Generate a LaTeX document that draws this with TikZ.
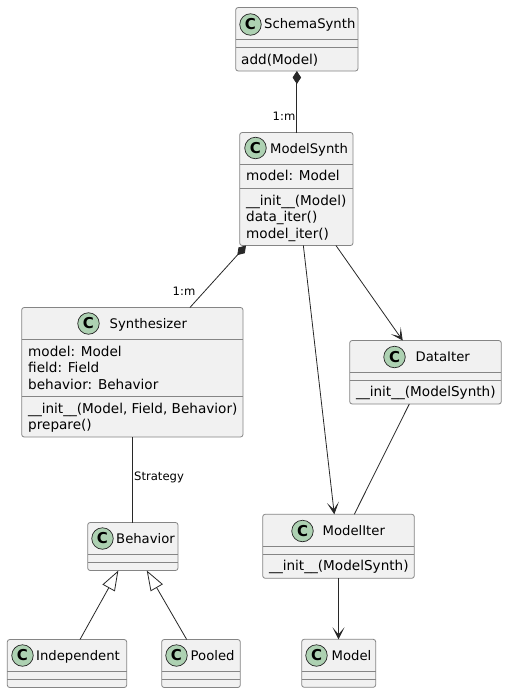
\documentclass[tikz,border=0pt]{standalone}
\usepackage{fontspec}
\setmainfont{DejaVu Sans}
\usetikzlibrary{arrows.meta}
\definecolor{boxfill}{HTML}{F1F1F1}
\definecolor{boxline}{HTML}{858585}
\definecolor{edgeline}{HTML}{282828}
\definecolor{spotfill}{HTML}{ADD1B2}
\tikzset{
  classbox/.style={draw=boxline,fill=boxfill,line width=0.8pt,rounded corners=2.5pt,
    inner sep=0pt,outer sep=0pt,anchor=north west},
  spot/.style={circle,draw=edgeline,fill=spotfill,line width=0.7pt,minimum size=21.5pt,inner sep=0pt,
    font=\fontsize{15}{15}\selectfont\bfseries},
  title/.style={inner sep=0pt,anchor=base west,font=\fontsize{13.2}{16.7}\selectfont},
  members/.style={inner sep=0pt,anchor=north west,align=left,font=\fontsize{13.6}{16.7}\selectfont},
  divider/.style={boxline,line width=0.8pt},
  edge/.style={edgeline,line width=0.8pt},
  tag/.style={inner sep=0pt,font=\fontsize{11.6}{13}\selectfont},
  comp/.style={edge,{Diamond[length=13pt,width=8.5pt]}-},
  nav/.style={edge,-{Stealth[length=12pt,width=12pt,inset=7pt]}},
  ext/.style={edge,-{Triangle[open,fill=white,length=20pt,width=14pt]}}
}
\begin{document}
\begin{tikzpicture}[x=1pt,y=-1pt]
\useasboundingbox[fill=white] (0,0) rectangle (507,693);
% classes, top to bottom
\node[classbox,minimum width=122.3pt,minimum height=63.5pt] (schemasynth) at (235.7,7.5) {};
\draw[divider] ([yshift=-32pt]schemasynth.north west) -- ([yshift=-32pt]schemasynth.north east);
\draw[divider] ([yshift=-40pt]schemasynth.north west) -- ([yshift=-40pt]schemasynth.north east);
\node[spot] (schemaspot) at (250.5,24.5) {C};
\node[title] (schemaname) at (264,28.5) {SchemaSynth};
\node[members] (schemaops) at (241,53.5) {add(Model)};

\node[classbox,minimum width=113.3pt,minimum height=113pt] (modelsynth) at (239.7,132.5) {};
\draw[divider] ([yshift=-32pt]modelsynth.north west) -- ([yshift=-32pt]modelsynth.north east);
\draw[divider] ([yshift=-56pt]modelsynth.north west) -- ([yshift=-56pt]modelsynth.north east);
\node[spot] (modelsynthspot) at (255.5,148) {C};
\node[title] (modelsynthname) at (270,153) {ModelSynth};
\node[members] (modelsynthattrs) at (246,170) {model: Model};
\node[members] (modelsynthops) at (246,194.5) {\_\_init\_\_(Model)\\data\_iter()\\model\_iter()};

\node[classbox,minimum width=221.3pt,minimum height=129.5pt] (synthesizer) at (21.7,307.5) {};
\draw[divider] ([yshift=-32pt]synthesizer.north west) -- ([yshift=-32pt]synthesizer.north east);
\draw[divider] ([yshift=-88.5pt]synthesizer.north west) -- ([yshift=-88.5pt]synthesizer.north east);
\node[spot] (synthesizerspot) at (88.5,323.5) {C};
\node[title] (synthesizername) at (109.5,328.5) {Synthesizer};
\node[members] (synthesizerattrs) at (28,345.5) {model: Model\\field: Field\\behavior: Behavior};
\node[members] (synthesizerops) at (28,402.5) {\_\_init\_\_(Model, Field, Behavior)\\prepare()};

\node[classbox,minimum width=151.6pt,minimum height=63.5pt] (dataiter) at (349.7,340.5) {};
\draw[divider] ([yshift=-32pt]dataiter.north west) -- ([yshift=-32pt]dataiter.north east);
\draw[divider] ([yshift=-40pt]dataiter.north west) -- ([yshift=-40pt]dataiter.north east);
\node[spot] (dataiterspot) at (394.5,357) {C};
\node[title] (dataitername) at (415.5,361.5) {DataIter};
\node[members] (dataiterops) at (356,386) {\_\_init\_\_(ModelSynth)};

\node[classbox,minimum width=151.6pt,minimum height=64pt] (modeliter) at (262.7,514.3) {};
\draw[divider] ([yshift=-32pt]modeliter.north west) -- ([yshift=-32pt]modeliter.north east);
\draw[divider] ([yshift=-40pt]modeliter.north west) -- ([yshift=-40pt]modeliter.north east);
\node[spot] (modeliterspot) at (302.5,531) {C};
\node[title] (modelitername) at (322.5,535.5) {ModelIter};
\node[members] (modeliterops) at (269,560) {\_\_init\_\_(ModelSynth)};

\node[classbox,minimum width=90.3pt,minimum height=48pt] (behavior) at (87.7,522.5) {};
\draw[divider] ([yshift=-32pt]behavior.north west) -- ([yshift=-32pt]behavior.north east);
\draw[divider] ([yshift=-40pt]behavior.north west) -- ([yshift=-40pt]behavior.north east);
\node[spot] (behaviorspot) at (102.5,538.5) {C};
\node[title] (behaviorname) at (116,543.5) {Behavior};

\node[classbox,minimum width=119.4pt,minimum height=48pt] (independent) at (7.3,639.5) {};
\draw[divider] ([yshift=-32pt]independent.north west) -- ([yshift=-32pt]independent.north east);
\draw[divider] ([yshift=-40pt]independent.north west) -- ([yshift=-40pt]independent.north east);
\node[spot] (independentspot) at (22.5,655.5) {C};
\node[title] (independentname) at (36,660.5) {Independent};

\node[classbox,minimum width=78.6pt,minimum height=48pt] (pooled) at (161.7,639.5) {};
\draw[divider] ([yshift=-32pt]pooled.north west) -- ([yshift=-32pt]pooled.north east);
\draw[divider] ([yshift=-40pt]pooled.north west) -- ([yshift=-40pt]pooled.north east);
\node[spot] (pooledspot) at (176.5,655.5) {C};
\node[title] (pooledname) at (190.5,660.5) {Pooled};

\node[classbox,minimum width=74pt,minimum height=48pt] (model) at (301.7,639.3) {};
\draw[divider] ([yshift=-32pt]model.north west) -- ([yshift=-32pt]model.north east);
\draw[divider] ([yshift=-40pt]model.north west) -- ([yshift=-40pt]model.north east);
\node[spot] (modelspot) at (316.5,655.5) {C};
\node[title] (modelname) at (331.5,660.5) {Model};

% relations
\draw[comp] (schemasynth.south) -- (schemasynth.south |- modelsynth.north);
\draw[comp] ([xshift=6.3pt]modelsynth.south west) -- ([xshift=57.6pt]synthesizer.north);
\draw[nav] ([xshift=7pt]modelsynth.south) -- ([xshift=-4.2pt]modeliter.north);
\draw[nav] ([xshift=39.6pt]modelsynth.south) -- ([xshift=-22.8pt]dataiter.north);
\draw[edge] ([xshift=-16.2pt]dataiter.south) -- ([xshift=15.8pt]modeliter.north);
\draw[nav] (modeliter.south) -- (modeliter.south |- model.north);
\draw[edge] (synthesizer.south) -- (synthesizer.south |- behavior.north);
\draw[ext] ([xshift=13pt]independent.north) -- ([xshift=-14.5pt]behavior.south);
\draw[ext] ([xshift=-14.3pt]pooled.north) -- ([xshift=13.9pt]behavior.south);

\node[tag,anchor=east] (schematag) at (295.5,116.5) {1:m};
\node[tag,anchor=east] (synthesizertag) at (195.5,291.5) {1:m};
\node[tag,anchor=west] (strategytag) at (134,477) {Strategy};
\end{tikzpicture}
\end{document}
